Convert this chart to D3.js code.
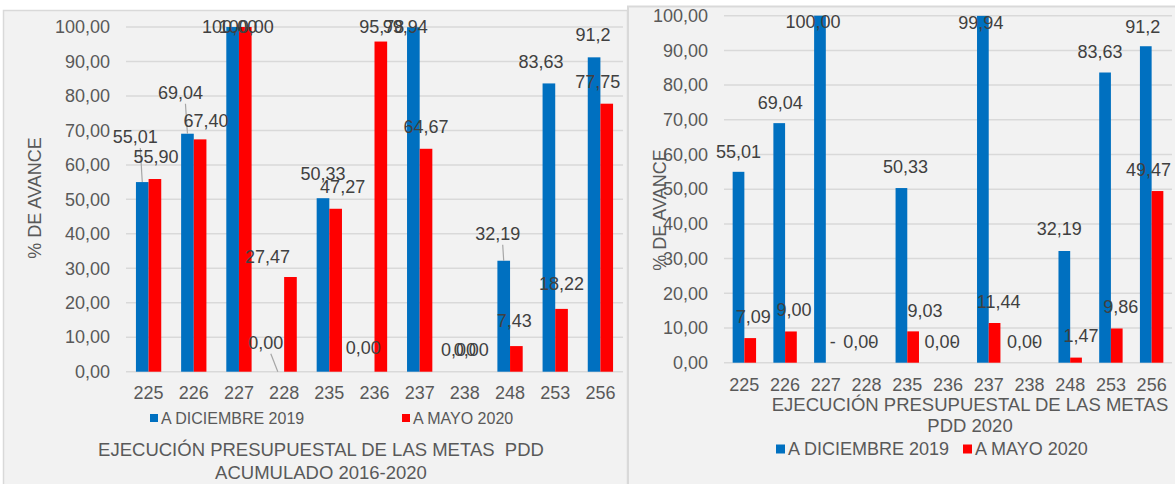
<!DOCTYPE html>
<html>
<head>
<meta charset="utf-8">
<script src="https://cdn.jsdelivr.net/npm/d3@7"></script>
<style>
  html, body { margin: 0; padding: 0; background: #fff; }
  svg { display: block; font-family: "Liberation Sans", Arial, sans-serif; }
  .ttl { white-space: pre; }
</style>
</head>
<body>
<svg id="chart" width="1175" height="484"></svg>
<script>
// categories (metas)
const metas = ["225", "226", "227", "228", "235", "236", "237", "238", "248", "253", "256"];
const yTicks = [0, 10, 20, 30, 40, 50, 60, 70, 80, 90, 100];

// acumulado 2016-2020
const acumDic = [55.01, 69.04, 100.00, 0.00, 50.33, 0.00, 99.94, 0.00, 32.19, 83.63, 91.2];
const acumMay = [55.90, 67.40, 100.00, 27.47, 47.27, 95.78, 64.67, 0.00, 7.43, 18.22, 77.75];
const acumDicTxt = ["55,01", "69,04", "100,00", "0,00", "50,33", "0,00", "99,94", "0,00", "32,19", "83,63", "91,2"];
const acumMayTxt = ["55,90", "67,40", "100,00", "27,47", "47,27", "95,78", "64,67", "0,00", "7,43", "18,22", "77,75"];

// pdd 2020
const pddDic = [55.01, 69.04, 100.00, 0.00, 50.33, 0.00, 99.94, 0.00, 32.19, 83.63, 91.2];
const pddMay = [7.09, 9.00, 0.00, 0.00, 9.03, 0.00, 11.44, 0.00, 1.47, 9.86, 49.47];
const pddDicTxt = ["55,01", "69,04", "100,00", "0,00", "50,33", "0,00", "99,94", "0,00", "32,19", "83,63", "91,2"];
const pddMayTxt = ["7,09", "9,00", "-", "-", "9,03", "-", "11,44", "-", "1,47", "9,86", "49,47"];

const seriesNames = ["A DICIEMBRE 2019", "A MAYO 2020"];
const colors = ["#0070c0", "#ff0000"];

// label nudges (px) from the default spot above each bar, like the moved excel labels
const acumDicNudge = [[-7,-23],[-7,-19],[-3,22],[-12,-7],[0,-3],[-5,-2],[-8,21],[0,0],[-6,-5],[-8,0],[-1,-1]];
const acumMayNudge = [[1,0],[6,3],[1,22],[-23,2],[7,0],[1,7],[0,0],[0,0],[-2,-3],[0,-3],[-9,0]];
const acumLeaders = [0, 1, 3, 8];
const pddDicNudge = [[0,2],[1,2],[-7,28],[0,1],[4,1],[0,1],[-2,29],[1,1],[-5,0],[-5,1],[-3,2]];
const pddMayNudge = [[3,1],[3,0],[1,1],[0,1],[12,1],[0,1],[4,1],[0,1],[5,0],[4,0],[-9,1]];

const fmt = v => d3.format(".2f")(v).replace(".", ",");
const svg = d3.select("#chart");

// panels
svg.append("rect").attr("x", 3.5).attr("y", 10.5).attr("width", 624).attr("height", 480)
  .attr("fill", "#f2f2f2").attr("stroke", "#d9d9d9").attr("stroke-width", 1.5);
svg.append("rect").attr("x", 628).attr("y", 6.5).attr("width", 560).attr("height", 480)
  .attr("fill", "#f2f2f2").attr("stroke", "#d9d9d9").attr("stroke-width", 2);

function drawChart(o) {
  const g = svg.append("g");
  const x = d3.scaleBand().domain(metas).range(o.xr).paddingInner(o.pad).paddingOuter(o.pad / 2);
  const xs = d3.scaleBand().domain([0, 1]).range([0, x.bandwidth()]);
  const y = d3.scaleLinear().domain([0, 100]).range(o.yr);

  // grid
  g.append("g").selectAll("line").data(yTicks).join("line")
    .attr("x1", o.xr[0]).attr("x2", o.xr[1])
    .attr("y1", d => y(d)).attr("y2", d => y(d))
    .attr("stroke", "#d9d9d9").attr("stroke-width", 1.5);

  // y axis labels
  const yAxis = g.append("g").attr("transform", `translate(${o.tickX},0)`)
    .call(d3.axisLeft(y).tickValues(yTicks).tickFormat(fmt).tickSize(0).tickPadding(0));
  yAxis.select(".domain").remove();
  yAxis.selectAll("text").attr("font-size", 18).attr("fill", "#595959")
    .attr("font-family", "Liberation Sans, Arial, sans-serif");

  // x axis labels
  const xAxis = g.append("g").attr("transform", `translate(0,${o.catY})`)
    .call(d3.axisBottom(x).tickSize(0).tickPadding(0));
  xAxis.select(".domain").remove();
  xAxis.selectAll("text").attr("font-size", 18).attr("fill", "#595959").attr("dy", "0.35em")
    .attr("font-family", "Liberation Sans, Arial, sans-serif");

  const series = [o.dic, o.may];
  const texts = [o.dicTxt, o.mayTxt];
  const nudges = [o.dicNudge, o.mayNudge];

  series.forEach((vals, s) => {
    g.append("g").selectAll("rect").data(vals).join("rect")
      .attr("x", (d, i) => x(metas[i]) + xs(s))
      .attr("width", xs.bandwidth())
      .attr("y", d => y(d))
      .attr("height", d => y(0) - y(d))
      .attr("fill", colors[s]);
  });

  // leader lines
  g.append("g").selectAll("line").data(o.leaders).join("line")
    .attr("x1", i => x(metas[i]) + xs(0) + xs.bandwidth() / 2 + nudges[0][i][0] + 5)
    .attr("y1", i => y(series[0][i]) - 22 + nudges[0][i][1] + 11)
    .attr("x2", i => x(metas[i]) + xs(0) + xs.bandwidth() / 2)
    .attr("y2", i => y(series[0][i]))
    .attr("stroke", "#a6a6a6").attr("stroke-width", 1.2);

  series.forEach((vals, s) => {
    g.append("g").selectAll("text").data(vals).join("text")
      .attr("x", (d, i) => x(metas[i]) + xs(s) + xs.bandwidth() / 2 + nudges[s][i][0])
      .attr("y", (d, i) => y(d) - 22 + nudges[s][i][1])
      .attr("dy", "0.35em")
      .attr("text-anchor", "middle")
      .attr("font-size", 18).attr("fill", "#404040")
      .text((d, i) => texts[s][i]);
  });

  // legend
  o.legend.forEach((p, s) => {
    g.append("rect").attr("x", p[0]).attr("y", o.legY - o.sq / 2).attr("width", o.sq).attr("height", o.sq)
      .attr("fill", colors[s]);
    g.append("text").attr("x", p[0] + o.sq + 3).attr("y", o.legY).attr("dy", "0.35em")
      .attr("font-size", o.legFont).attr("fill", "#595959").text(seriesNames[s]);
  });

  // title lines
  o.title.forEach((t, k) => {
    g.append("text").attr("class", "ttl").attr("x", o.titleX).attr("y", o.titleY[k]).attr("dy", "0.35em")
      .attr("text-anchor", "middle").attr("font-size", 18.5).attr("fill", "#595959").text(t);
  });

  // y title
  g.append("text").attr("transform", `translate(${o.yTitle[0]},${o.yTitle[1]}) rotate(-90)`)
    .attr("dy", "0.35em").attr("text-anchor", "middle")
    .attr("font-size", 18).attr("fill", "#595959").text("% DE AVANCE");
}

drawChart({
  xr: [126, 623], yr: [371.7, 27], pad: 0.44, tickX: 110, catY: 393,
  dic: acumDic, may: acumMay, dicTxt: acumDicTxt, mayTxt: acumMayTxt,
  dicNudge: acumDicNudge, mayNudge: acumMayNudge, leaders: acumLeaders,
  legend: [[150], [402]], legY: 418, sq: 8, legFont: 16,
  title: ["EJECUCIÓN PRESUPUESTAL DE LAS METAS  PDD", "ACUMULADO 2016-2020"],
  titleX: 321, titleY: [450, 473], yTitle: [35, 198]
});

drawChart({
  xr: [724, 1172], yr: [362.7, 15.7], pad: 0.425, tickX: 708, catY: 385,
  dic: pddDic, may: pddMay, dicTxt: pddDicTxt, mayTxt: pddMayTxt,
  dicNudge: pddDicNudge, mayNudge: pddMayNudge, leaders: [],
  legend: [[776], [963]], legY: 449, sq: 9, legFont: 18,
  title: ["EJECUCIÓN PRESUPUESTAL DE LAS METAS", "PDD 2020"],
  titleX: 970, titleY: [405, 426], yTitle: [660, 210]
});
</script>
</body>
</html>
